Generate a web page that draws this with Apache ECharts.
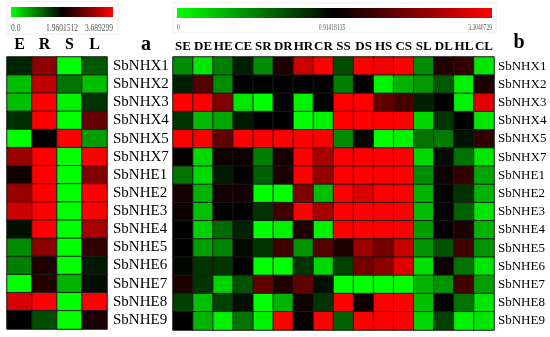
<!DOCTYPE html>
<html><head><meta charset="utf-8">
<script src="https://cdn.jsdelivr.net/npm/echarts@6/dist/echarts.min.js"></script>
<style>html,body{margin:0;padding:0;background:#fff}#c{width:550px;height:337px}</style>
</head><body><div id="c"></div>
<script>
// Row labels (genes)
var genes = ['SbNHX1','SbNHX2','SbNHX3','SbNHX4','SbNHX5','SbNHX7','SbNHE1','SbNHE2','SbNHE3','SbNHE4','SbNHE5','SbNHE6','SbNHE7','SbNHE8','SbNHE9'];
// Panel a columns
var tissuesA = ['E','R','S','L'];
// Panel b columns
var tissuesB = ['SE','DE','HE','CE','SR','DR','HR','CR','SS','DS','HS','CS','SL','DL','HL','CL'];
// Colour-bar tick labels
var barTicksA = ['0.0','1.9601512','3.689299'];
var barTicksB = ['0','0.91418135','3.3040729'];
// Relative expression level (-1 = green, 0 = black, +1 = red), one row per gene
var valuesA = [
  [-0.15, 0.55, -1, -0.35],
  [-0.75, 0.75, -0.45, -0.75],
  [-0.75, 1, -0.95, -0.2],
  [-0.18, 1, -1, 0.4],
  [-1, 0, 1, -0.62],
  [0.6, 1, -1, 1],
  [0.07, 1, -1, 0.5],
  [0.6, 1, -1, 1],
  [0.8, 1, -1, 1],
  [-0.06, 1, -1, 0.65],
  [-0.55, 0.55, -1, 0.2],
  [-0.5, 0.13, -1, -0.1],
  [-1, 0.15, -0.7, -0.05],
  [0.85, 1, -1, 1],
  [0, -0.3, -1, 0.1]
];
var valuesB = [
  [-0.55,-0.9,-0.5,-0.12,-0.55,0.12,0.8,1,-0.3,1,0.95,1,-0.55,0.13,0.2,-0.9],
  [-0.12,0.32,-0.55,0,0,0,0,0,-0.5,0,-0.95,-0.7,-0.6,-0.35,-0.95,0.12],
  [1,1,0.5,-0.9,-1,0,-0.95,0,1,1,0.38,0.27,-0.13,0,-0.95,0.88],
  [-0.2,-0.72,-0.65,-0.1,0,0,-1,-0.95,1,1,1,1,-0.85,-0.2,0,-0.9],
  [1,1,0.38,1,1,1,1,1,-0.55,-0.03,-1,-0.95,-0.45,-0.48,-0.07,0.2],
  [0.02,-0.85,0.05,0.05,-0.5,0.09,1,0.65,1,1,1,1,-0.85,-0.05,-0.45,-0.9],
  [-0.45,-0.85,-0.1,0,-0.38,0.1,1,0.58,1,1,1,1,-0.55,0.05,0.2,-0.65],
  [0.08,-0.7,0.08,0.08,-1,-1,0.5,-0.75,1,0.85,1,1,-0.7,0,-0.2,-0.7],
  [0.05,-0.75,0,0,-0.2,0.25,1,0.65,1,1,1,1,-0.75,0,-0.38,-0.9],
  [0,-0.82,-0.42,-0.13,-1,-0.95,0.12,-0.95,1,1,1,1,-0.62,0,0.12,-0.7],
  [0,-0.62,-0.52,-0.03,-0.2,0.25,-0.58,0.32,0.12,0.62,0.45,0.78,-0.58,-0.32,0.25,-0.58],
  [-0.03,-0.2,-0.2,0,-1,-1,-0.2,-0.85,-0.25,0.45,0.55,0.88,-0.88,0.05,-0.45,-0.9],
  [0.12,-0.2,-0.82,-0.32,0.38,0.12,0.38,-0.06,-1,-1,-1,-1,-0.7,-0.58,0.25,-0.62],
  [-0.25,-0.75,-0.25,-0.06,-1,-0.7,0.05,-0.2,1,0.06,1,1,-0.75,0,-0.45,-0.9],
  [0,-0.7,-0.95,-0.45,-0.95,1,0,1,-0.38,1,1,1,-0.85,-0.25,-0.95,-0.9]
];

function toCells(rows){
  var out=[];
  rows.forEach(function(r,yi){ r.forEach(function(v,xi){ out.push([xi,yi,v]); }); });
  return out;
}
var SERIF = '"Liberation Serif","Times New Roman",serif';
var grad = function(){ return new echarts.graphic.LinearGradient(0,0,1,0,[
  {offset:0,color:'#00ff00'},{offset:0.5,color:'#000000'},{offset:1,color:'#ff0000'}]); };
function tick(txt, x, y, align, size, sx){
  return {type:'text', x:x, y:y, scaleX:sx, originX:0, originY:0,
    style:{text:txt, font:size+'px '+SERIF, fill:'#555', textAlign:align, textVerticalAlign:'middle'}};
}

var chart = echarts.init(document.getElementById('c'));
chart.setOption({
  animation:false,
  backgroundColor:'#ffffff',
  grid:[
    {left:7, top:57, width:100, height:272},
    {left:173, top:57, width:321, height:273}
  ],
  xAxis:[
    {type:'category', gridIndex:0, data:tissuesA, position:'top', axisLine:{show:false}, axisTick:{show:false},
     axisLabel:{margin:4, fontFamily:SERIF, fontWeight:'bold', fontSize:16, color:'#000'}},
    {type:'category', gridIndex:1, data:tissuesB, position:'top', axisLine:{show:false}, axisTick:{show:false},
     axisLabel:{margin:4, interval:0, fontFamily:SERIF, fontWeight:'bold', fontSize:13, color:'#000'}}
  ],
  yAxis:[
    {type:'category', gridIndex:0, data:genes, inverse:true, position:'right', axisLine:{show:false}, axisTick:{show:false},
     axisLabel:{margin:6, interval:0, fontFamily:SERIF, fontSize:15, color:'#000'}},
    {type:'category', gridIndex:1, data:genes, inverse:true, position:'right', axisLine:{show:false}, axisTick:{show:false},
     axisLabel:{margin:4, interval:0, fontFamily:SERIF, fontSize:13, color:'#000'}}
  ],
  visualMap:[
    {type:'continuous', show:false, seriesIndex:0, min:-1, max:1, inRange:{color:['#00ff00','#000000','#ff0000']}},
    {type:'continuous', show:false, seriesIndex:1, min:-1, max:1, inRange:{color:['#00ff00','#000000','#ff0000']}}
  ],
  series:[
    {type:'heatmap', xAxisIndex:0, yAxisIndex:0, data:toCells(valuesA),
     itemStyle:{borderColor:'#1a1a1a', borderWidth:1}},
    {type:'heatmap', xAxisIndex:1, yAxisIndex:1, data:toCells(valuesB),
     itemStyle:{borderColor:'#1a1a1a', borderWidth:1}}
  ],
  graphic:[
    {type:'rect', shape:{x:7, y:2, width:111, height:32}, style:{fill:'none', stroke:'#ececec', lineWidth:1}},
    {type:'rect', shape:{x:11, y:7, width:102, height:10}, style:{fill:grad()}},
    tick(barTicksA[0], 11, 28, 'left', 10, 0.75),
    tick(barTicksA[1], 62, 28, 'center', 10, 0.75),
    tick(barTicksA[2], 113, 28, 'right', 10, 0.75),
    {type:'rect', shape:{x:173, y:3, width:323, height:30}, style:{fill:'none', stroke:'#ececec', lineWidth:1}},
    {type:'rect', shape:{x:177, y:8, width:315, height:10}, style:{fill:grad()}},
    tick(barTicksB[0], 177, 28, 'left', 8, 0.7),
    tick(barTicksB[1], 332, 28, 'center', 8, 0.7),
    tick(barTicksB[2], 492, 28, 'right', 8, 0.7),
    {type:'text', x:146, y:45, style:{text:'a', font:'bold 20px '+SERIF, fill:'#000', textAlign:'center', textVerticalAlign:'middle'}},
    {type:'text', x:519, y:43, style:{text:'b', font:'bold 20px '+SERIF, fill:'#000', textAlign:'center', textVerticalAlign:'middle'}}
  ]
});
</script></body></html>
